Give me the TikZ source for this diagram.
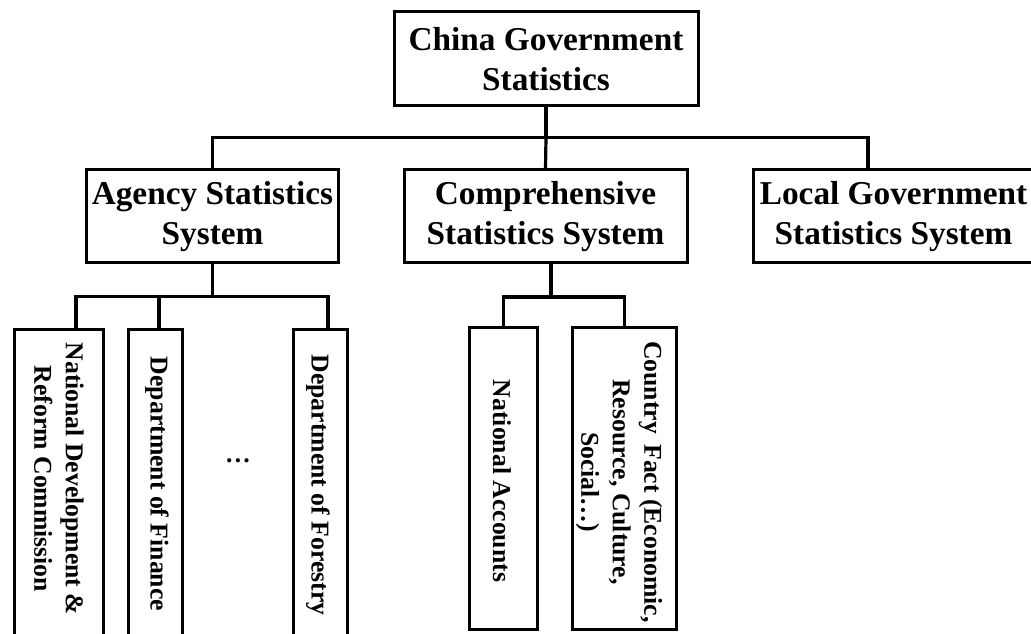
\documentclass[tikz,border=0pt]{standalone}
\usepackage{fontspec}
\setmainfont{Liberation Serif}
\begin{document}
\begin{tikzpicture}[x=1pt,y=-1pt,
  box/.style={draw=black,line width=3pt,inner sep=0pt,fill=white},
  conn/.style={draw=black,line width=3.2pt},
  bigtext/.style={font=\fontsize{33.3}{40}\selectfont\bfseries,align=center,inner sep=0pt},
  vtext/.style={font=\fontsize{25.7}{31.5}\selectfont\bfseries,align=center,rotate=-90,inner sep=0pt}]
\useasboundingbox (0,0) rectangle (1031,633);
\clip (0,0) rectangle (1031,633);
% boxes
\node[box,minimum width=304pt,minimum height=94pt] (top) at (546,58) {};
\node[bigtext] (toptext) at (546,59) {China Government\\Statistics};
\node[box,minimum width=252pt,minimum height=93pt] (agency) at (212.5,216) {};
\node[bigtext] (agencytext) at (212.5,217) {Agency Statistics\\System};
\node[box,minimum width=283pt,minimum height=93pt] (comp) at (545.5,216) {};
\node[bigtext] (comptext) at (545.5,217) {Comprehensive\\Statistics System};
\node[box,minimum width=281pt,minimum height=93pt] (local) at (893.5,216) {};
\node[bigtext] (localtext) at (893.5,217) {Local Government\\Statistics System};
% bottom boxes
\node[box,minimum width=89pt,minimum height=310.5pt] (ndrc) at (59,484.75) {};
\node[vtext] (ndrctext) at (59,479) {National Development \&\\Reform Commission};
\node[box,minimum width=54pt,minimum height=310.5pt] (finance) at (155,484.75) {};
\node[vtext] (financetext) at (157,484) {Department of Finance};
\node[box,minimum width=54pt,minimum height=310.5pt] (forestry) at (320.5,484.75) {};
\node[vtext] (forestrytext) at (318,485) {Department of Forestry};
\node[font=\fontsize{25.7}{31.5}\selectfont\bfseries,inner sep=0pt] (dots) at (238,461) {\dots};
\node[box,minimum width=68pt,minimum height=301.5pt] (natacc) at (503.5,478.25) {};
\node[vtext] (natacctext) at (502,481) {National Accounts};
\node[box,minimum width=104.5pt,minimum height=301.5pt] (country) at (624.25,478.25) {};
\node[vtext] (countrytext) at (619,482) {Country\hspace{0.15em} Fact (Economic,\\Resource, Culture,\\Social\dots)};
% connector junctions
\coordinate (b1) at (546,137.5);
\coordinate (b2) at (212.5,296.5);
\coordinate (b3) at (551,297);
% first level
\draw[conn] (top.south) -- (b1);
\draw[conn] (b1) -- (comp.north);
\draw[conn] (agency.north) |- (b1) -| (868,0 |- local.north);
% agency children
\draw[conn] (agency.south) -- (b2);
\draw[conn] (76,0 |- ndrc.north) |- (b2) -| (328,0 |- forestry.north);
\draw[conn] (159,0 |- b2) -- (159,0 |- finance.north);
% comprehensive children
\draw[conn] (551,0 |- comp.south) -- (b3);
\draw[conn] (natacc.north) |- (b3) -| (country.north);
\end{tikzpicture}
\end{document}
